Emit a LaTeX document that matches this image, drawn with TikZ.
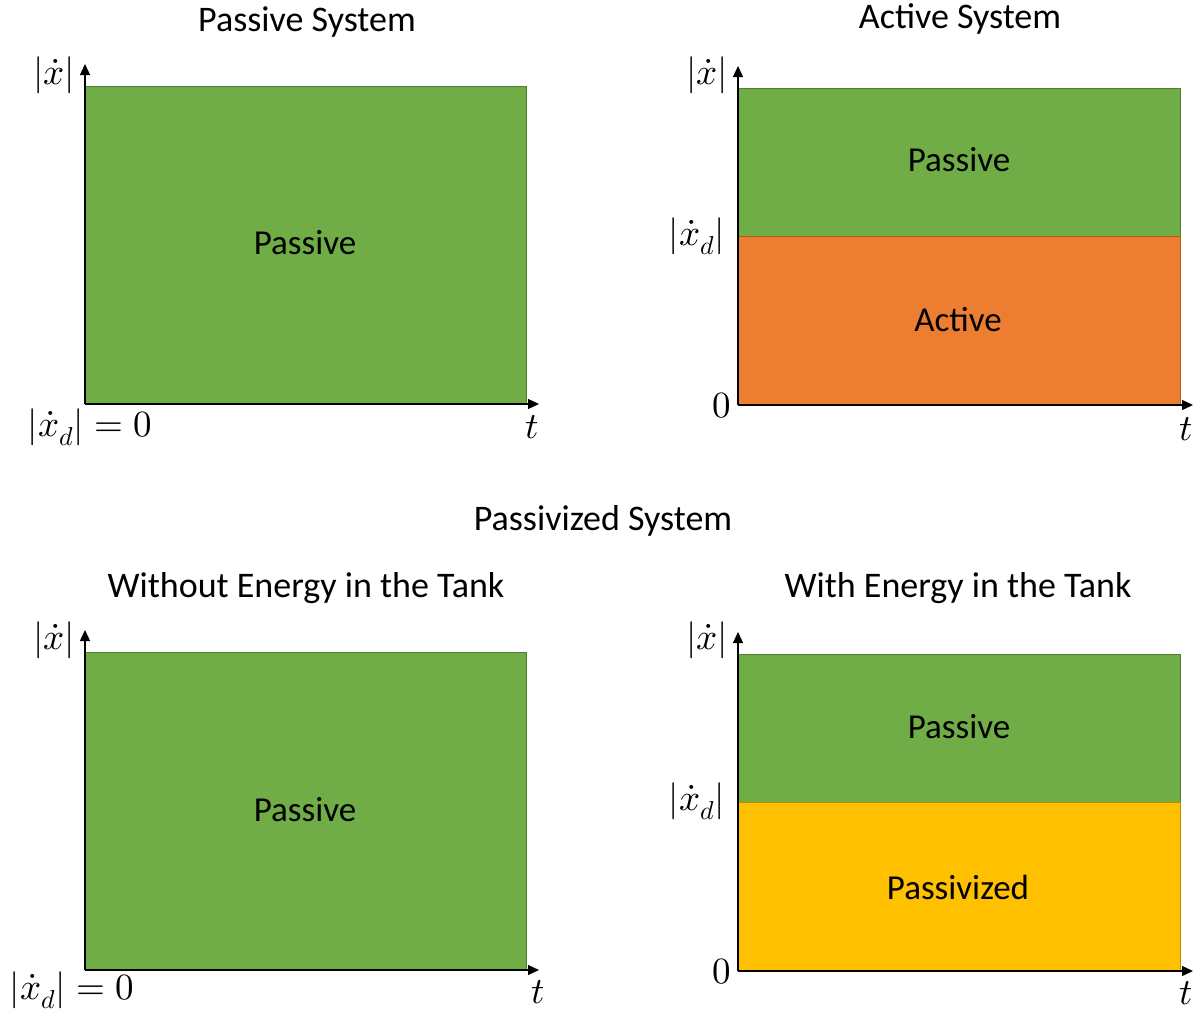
\documentclass[tikz,border=0pt]{standalone}
\usepackage{amsmath}
\usepackage{unicode-math}
\setmainfont{Carlito}
\setmathfont{Latin Modern Math}
\usetikzlibrary{arrows.meta}
\definecolor{pgreen}{HTML}{70AD47}
\definecolor{porange}{HTML}{ED7D31}
\definecolor{pyellow}{HTML}{FFC000}
\definecolor{pedge}{HTML}{507E32}
\definecolor{oedge}{HTML}{AE5A21}
\definecolor{yedge}{HTML}{BC8C00}
\tikzset{
  region/.style={draw, line width=1pt, inner sep=0pt, outer sep=0pt, anchor=north west},
  axis/.style={line width=1.3pt, -{Triangle[length=11pt,width=10pt]}},
  title/.style={font=\fontsize{36}{43}\selectfont, inner sep=0pt},
  rlab/.style={font=\fontsize{35}{42}\selectfont, inner sep=0pt},
  mlab/.style={font=\fontsize{37}{44}\selectfont, inner sep=0pt}
}
\begin{document}
\begin{tikzpicture}[x=1pt,y=-1pt]
\useasboundingbox (0,0) rectangle (1201,1010);
% ---------- top left ----------
\node[title] (t1) at (307,22) {Passive System};
\node[region, fill=pgreen, draw=pedge, minimum width=441pt, minimum height=318pt] (r1) at (85,86) {};
\node[rlab] (p1) at (305,243) {Passive};
\coordinate (o1) at (85,404);
\coordinate (y1) at (85,64);
\coordinate (x1) at (539,404);
\draw[axis] (o1) -- (y1);
\draw[axis] (o1) -- (x1);
\node[mlab] (ly1) at (54,75) {$|\dot{x}|$};
\node[mlab] (lz1) at (90,427) {$|\dot{x}_d| = 0$};
\node[mlab] (lt1) at (532,427) {$t$};
% ---------- top right ----------
\node[title] (t2) at (960,19) {Active System};
\node[region, fill=pgreen, draw=pedge, minimum width=442pt, minimum height=148pt] (r2a) at (738,88) {};
\node[region, fill=porange, draw=oedge, minimum width=442pt, minimum height=169pt] (r2b) at (738,236) {};
\node[rlab] (p2) at (959,160) {Passive};
\node[rlab] (a2) at (958,320) {Active};
\coordinate (o2) at (738,405);
\coordinate (y2) at (738,66);
\coordinate (x2) at (1193,405);
\draw[axis] (o2) -- (y2);
\draw[axis] (o2) -- (x2);
\node[mlab] (ly2) at (707,75) {$|\dot{x}|$};
\node[mlab] (lx2) at (697,236) {$|\dot{x}_d|$};
\node[mlab] (lz2) at (722,406) {$0$};
\node[mlab] (lt2) at (1186,429) {$t$};
% ---------- middle title ----------
\node[title] (tm) at (603,521) {Passivized System};
% ---------- bottom left ----------
\node[title] (t3) at (306,588) {Without Energy in the Tank};
\node[region, fill=pgreen, draw=pedge, minimum width=441pt, minimum height=318pt] (r3) at (85,652) {};
\node[rlab] (p3) at (305,810) {Passive};
\coordinate (o3) at (85,970);
\coordinate (y3) at (85,630);
\coordinate (x3) at (539,970);
\draw[axis] (o3) -- (y3);
\draw[axis] (o3) -- (x3);
\node[mlab] (ly3) at (54,640) {$|\dot{x}|$};
\node[mlab] (lz3) at (72,990) {$|\dot{x}_d| = 0$};
\node[mlab] (lt3) at (538,992) {$t$};
% ---------- bottom right ----------
\node[title] (t4) at (958,588) {With Energy in the Tank};
\node[region, fill=pgreen, draw=pedge, minimum width=442pt, minimum height=148pt] (r4a) at (738,654) {};
\node[region, fill=pyellow, draw=yedge, minimum width=442pt, minimum height=169pt] (r4b) at (738,802) {};
\node[rlab] (p4) at (959,727) {Passive};
\node[rlab] (a4) at (958,887) {Passivized};
\coordinate (o4) at (738,971);
\coordinate (y4) at (738,632);
\coordinate (x4) at (1193,971);
\draw[axis] (o4) -- (y4);
\draw[axis] (o4) -- (x4);
\node[mlab] (ly4) at (707,640) {$|\dot{x}|$};
\node[mlab] (lx4) at (697,801) {$|\dot{x}_d|$};
\node[mlab] (lz4) at (722,972) {$0$};
\node[mlab] (lt4) at (1186,993) {$t$};
\end{tikzpicture}
\end{document}
